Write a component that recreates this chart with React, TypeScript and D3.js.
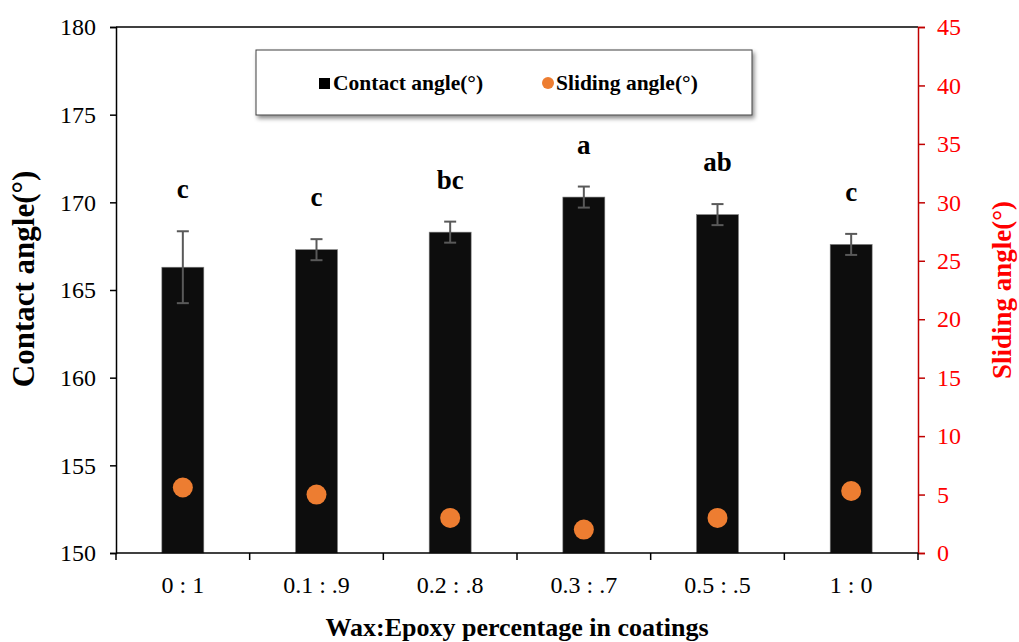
import React, { useEffect, useRef } from "react";
import * as d3 from "d3";

// ratios of wax to epoxy
const categories = ["0 : 1", "0.1 : .9", "0.2 : .8", "0.3 : .7", "0.5 : .5", "1 : 0"];
const contactAngle = [166.3, 167.3, 168.3, 170.3, 169.3, 167.6];
const contactErr = [2.05, 0.6, 0.6, 0.6, 0.6, 0.6];
const letters = ["c", "c", "bc", "a", "ab", "c"];
const slidingAngle = [5.6, 5.0, 3.0, 2.0, 3.0, 5.3];
const leftTicks = [150, 155, 160, 165, 170, 175, 180];
const rightTicks = [0, 5, 10, 15, 20, 25, 30, 35, 40, 45];

const FONT = "'Liberation Serif', 'Times New Roman', serif";

export default function App() {
  const ref = useRef<SVGSVGElement>(null);

  useEffect(() => {
    const svg = d3.select(ref.current);
    svg.selectAll("*").remove();

    const left = 116, right = 918, top = 27, bottom = 553;

    const x = d3.scaleBand().domain(categories).range([left, right]).paddingInner(0.686).paddingOuter(0.343);
    const xb = d3.scaleBand().domain(categories).range([left, right]);
    const y = d3.scaleLinear().domain([150, 180]).range([bottom, top]);
    const y2 = d3.scaleLinear().domain([0, 45]).range([bottom, top]);

    const defs = svg.append("defs");
    const f = defs.append("filter").attr("id", "shadow").attr("x", "-5%").attr("y", "-20%").attr("width", "110%").attr("height", "150%");
    f.append("feDropShadow").attr("dx", 2).attr("dy", 3).attr("stdDeviation", 2).attr("flood-color", "#000").attr("flood-opacity", 0.45);

    // top frame line
    svg.append("line").attr("x1", left).attr("x2", right).attr("y1", top).attr("y2", top)
      .attr("stroke", "#000").attr("stroke-width", 1.5);

    // bars
    svg.append("g").selectAll("rect").data(contactAngle).enter().append("rect")
      .attr("x", (_, i) => x(categories[i])!)
      .attr("width", x.bandwidth())
      .attr("y", d => y(d))
      .attr("height", d => bottom - y(d))
      .attr("fill", "#0d0d0d")
      .attr("stroke", "#7f7f7f").attr("stroke-width", 0.6);

    // error bars + letters
    const eg = svg.append("g").attr("stroke", "#595959").attr("stroke-width", 2);
    contactAngle.forEach((v, i) => {
      const cx = x(categories[i])! + x.bandwidth() / 2;
      const hi = y(v + contactErr[i]), lo = y(v - contactErr[i]);
      eg.append("line").attr("x1", cx).attr("x2", cx).attr("y1", hi).attr("y2", lo);
      eg.append("line").attr("x1", cx - 6).attr("x2", cx + 6).attr("y1", hi).attr("y2", hi);
      eg.append("line").attr("x1", cx - 6).attr("x2", cx + 6).attr("y1", lo).attr("y2", lo);
      svg.append("text").attr("x", cx).attr("y", hi - 33).attr("text-anchor", "middle")
        .attr("font-family", FONT).attr("font-weight", "bold").attr("font-size", 27).attr("fill", "#000")
        .text(letters[i]);
    });

    // sliding dots
    svg.append("g").selectAll("ellipse").data(slidingAngle).enter().append("ellipse")
      .attr("cx", (_, i) => x(categories[i])! + x.bandwidth() / 2)
      .attr("cy", d => y2(d))
      .attr("rx", 10).attr("ry", 10)
      .attr("fill", "#ED7D31");

    // left axis
    const ga = svg.append("g").attr("transform", `translate(${left},0)`)
      .call(d3.axisLeft(y).tickValues(leftTicks).tickSize(6).tickPadding(14));
    ga.select(".domain").attr("stroke", "#000").attr("stroke-width", 1.5);
    ga.selectAll("line").attr("stroke", "#000").attr("stroke-width", 1.5);
    ga.selectAll("text").attr("font-family", FONT).attr("font-size", 24).attr("fill", "#000");

    // right axis
    const gr = svg.append("g").attr("transform", `translate(${right},0)`)
      .call(d3.axisRight(y2).tickValues(rightTicks).tickSize(7).tickPadding(12));
    gr.select(".domain").attr("stroke", "#C00000").attr("stroke-width", 1.5);
    gr.selectAll("line").attr("stroke", "#C00000").attr("stroke-width", 1.5);
    gr.selectAll("text").attr("font-family", FONT).attr("font-size", 24).attr("fill", "#FF0000");

    // bottom axis: ticks at category boundaries
    const gx = svg.append("g").attr("transform", `translate(0,${bottom})`);
    gx.append("line").attr("x1", left).attr("x2", right).attr("stroke", "#000").attr("stroke-width", 1.5);
    const bounds = categories.map(c => xb(c)!).concat([right]);
    gx.selectAll("line.tk").data(bounds).enter().append("line").attr("class", "tk")
      .attr("x1", d => d).attr("x2", d => d).attr("y1", 0).attr("y2", 7)
      .attr("stroke", "#000").attr("stroke-width", 1.5);
    gx.selectAll("text").data(categories).enter().append("text")
      .attr("x", d => xb(d)! + xb.bandwidth() / 2).attr("y", 40)
      .attr("text-anchor", "middle").attr("font-family", FONT).attr("font-size", 24).attr("fill", "#000")
      .text(d => d);

    // axis titles
    svg.append("text").attr("transform", `translate(${left - 82},${(top + bottom) / 2 - 11}) rotate(-90)`)
      .attr("text-anchor", "middle").attr("font-family", FONT).attr("font-weight", "bold").attr("font-size", 31)
      .attr("fill", "#000").text("Contact angle(°)");
    svg.append("text").attr("transform", `translate(${right + 93},${(top + bottom) / 2}) rotate(-90)`)
      .attr("text-anchor", "middle").attr("font-family", FONT).attr("font-weight", "bold").attr("font-size", 27)
      .attr("fill", "#FF0000").text("Sliding angle(°)");
    svg.append("text").attr("x", (left + right) / 2).attr("y", 636)
      .attr("text-anchor", "middle").attr("font-family", FONT).attr("font-weight", "bold").attr("font-size", 26)
      .attr("fill", "#000").text("Wax:Epoxy percentage in coatings");

    // legend
    const lg = svg.append("g");
    lg.append("rect").attr("x", 256).attr("y", 50).attr("width", 496).attr("height", 65)
      .attr("fill", "#fff").attr("stroke", "#404040").attr("stroke-width", 1).attr("filter", "url(#shadow)");
    lg.append("rect").attr("x", 319).attr("y", 78).attr("width", 11).attr("height", 11).attr("fill", "#000");
    lg.append("text").attr("x", 333).attr("y", 90).attr("font-family", FONT).attr("font-weight", "bold")
      .attr("font-size", 21.5).attr("fill", "#000").text("Contact angle(°)");
    lg.append("circle").attr("cx", 548).attr("cy", 83).attr("r", 6).attr("fill", "#ED7D31");
    lg.append("text").attr("x", 556).attr("y", 90).attr("font-family", FONT).attr("font-weight", "bold")
      .attr("font-size", 21.5).attr("fill", "#000").text("Sliding angle(°)");
  }, []);

  return (
    <svg ref={ref} width={1019} height={642} style={{ position: "absolute", left: 0, top: 0, background: "#fff" }} />
  );
}
